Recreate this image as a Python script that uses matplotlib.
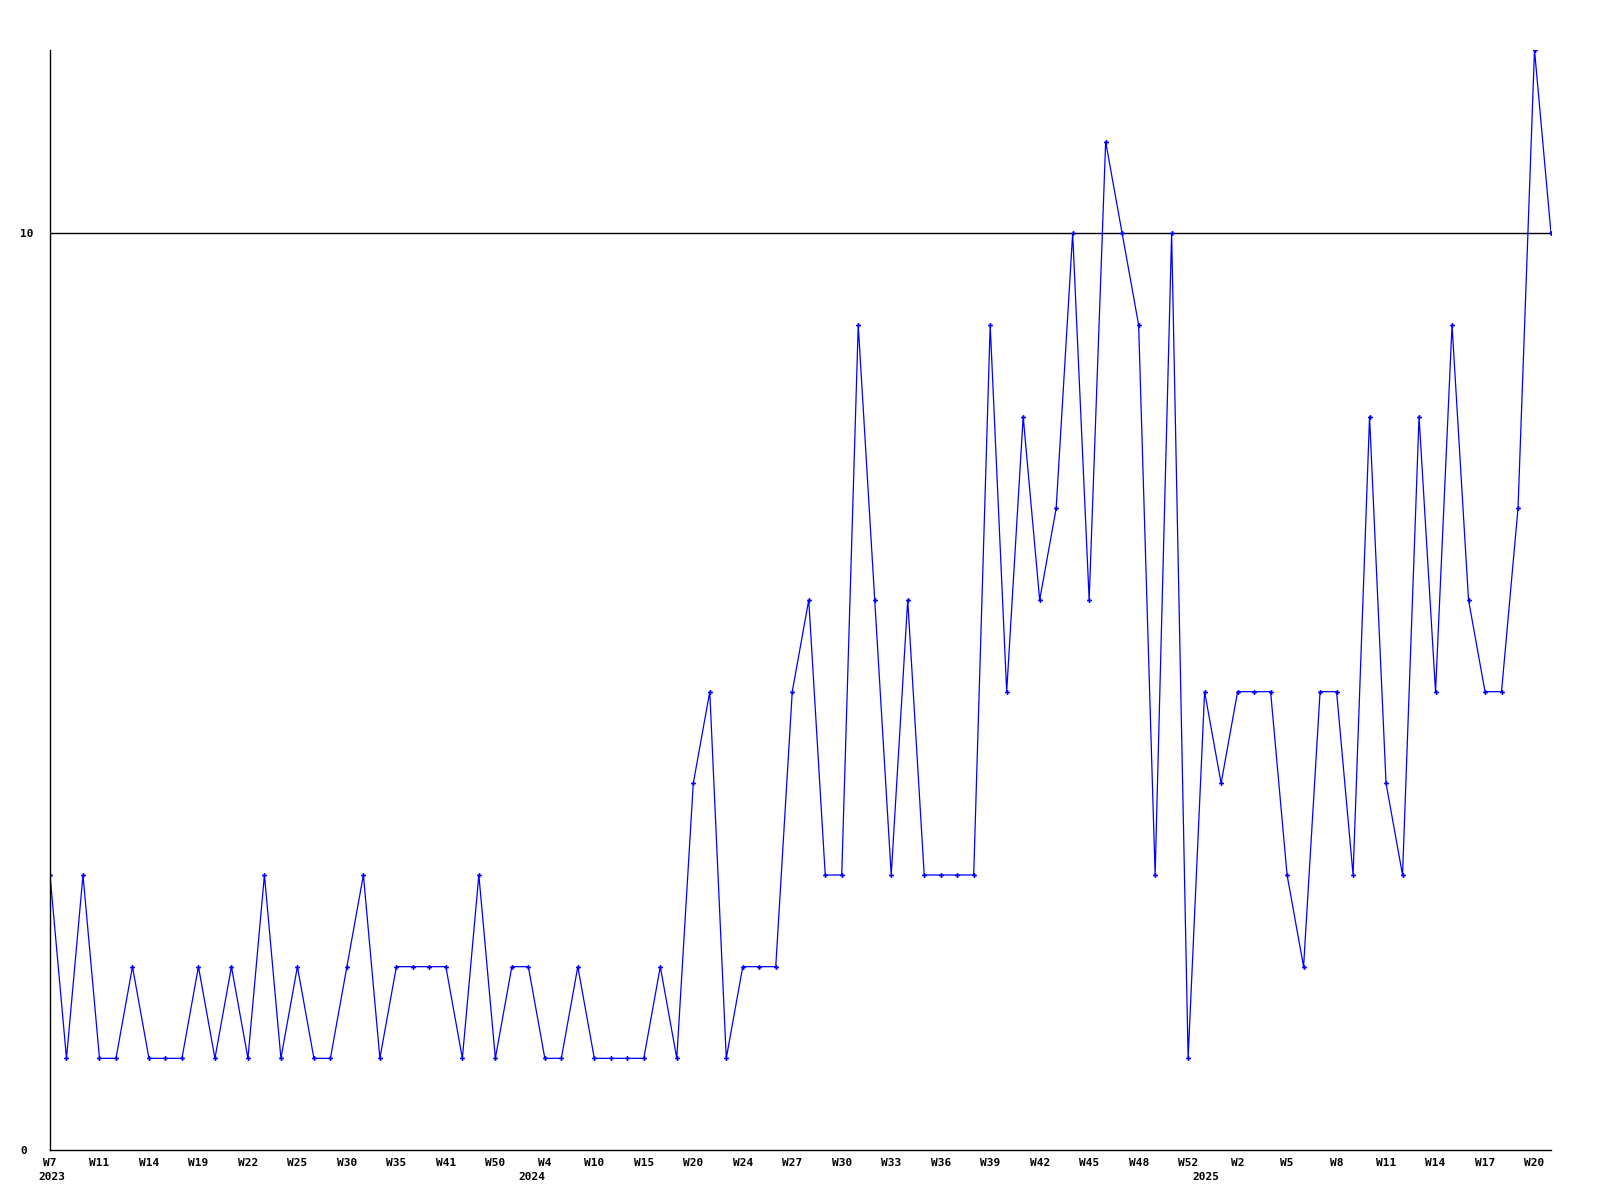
import numpy as np
import matplotlib
matplotlib.use('Agg')
import matplotlib.pyplot as plt

# weekly counts, one point per sample
values = [3, 1, 3, 1, 1, 2, 1, 1, 1, 2, 1, 2, 1, 3, 1, 2, 1, 1, 2, 3,
          1, 2, 2, 2, 2, 1, 3, 1, 2, 2, 1, 1, 2, 1, 1, 1, 1, 2, 1, 4,
          5, 1, 2, 2, 2, 5, 6, 3, 3, 9, 6, 3, 6, 3, 3, 3, 3, 9, 5, 8,
          6, 7, 10, 6, 11, 10, 9, 3, 10, 1, 5, 4, 5, 5, 5, 3, 2, 5, 5, 3,
          8, 4, 3, 8, 5, 9, 6, 5, 5, 7, 12, 10]

week_labels = ['W7', 'W11', 'W14', 'W19', 'W22', 'W25', 'W30', 'W35', 'W41', 'W50',
               'W4', 'W10', 'W15', 'W20', 'W24', 'W27', 'W30', 'W33', 'W36', 'W39',
               'W42', 'W45', 'W48', 'W52', 'W2', 'W5', 'W8', 'W11', 'W14', 'W17', 'W20']
label_step = 3

years = ['2023', '2024', '2025']
year_pos = [0.1, 29.2, 70.1]

ref_level = 10

x = np.arange(len(values))

plt.rcParams['font.family'] = 'DejaVu Sans Mono'
plt.rcParams['font.weight'] = 'bold'

fig = plt.figure(figsize=(16, 12), dpi=100)
ax = fig.add_axes([50/1600, 50/1200, 1501/1600, 1100/1200])

ax.axhline(ref_level, color='black', linewidth=1.0)
ax.plot(x, values, color='#0000ff', linewidth=0.9, marker='P', markersize=3.5,
        markeredgewidth=0)

ax.set_xlim(0, len(values) - 1)
ax.set_ylim(0, 12)

ax.set_xticks(x[::label_step])
ax.set_xticklabels(week_labels, fontsize=8)
ax.set_yticks([0, ref_level])
ax.set_yticklabels(['0', '10'], fontsize=8, ha='left')
ax.tick_params(axis='x', length=0, pad=6)
ax.tick_params(axis='y', length=0, pad=21.3)

for yr, pos in zip(years, year_pos):
    ax.annotate(yr, xy=(pos, 0), xycoords=('data', 'axes fraction'),
                xytext=(0, -22), textcoords='offset pixels',
                ha='center', va='top', fontsize=8)

for side in ['top', 'right']:
    ax.spines[side].set_visible(False)
for side in ['left', 'bottom']:
    ax.spines[side].set_linewidth(1.0)

fig.savefig('out.png', dpi=100)
